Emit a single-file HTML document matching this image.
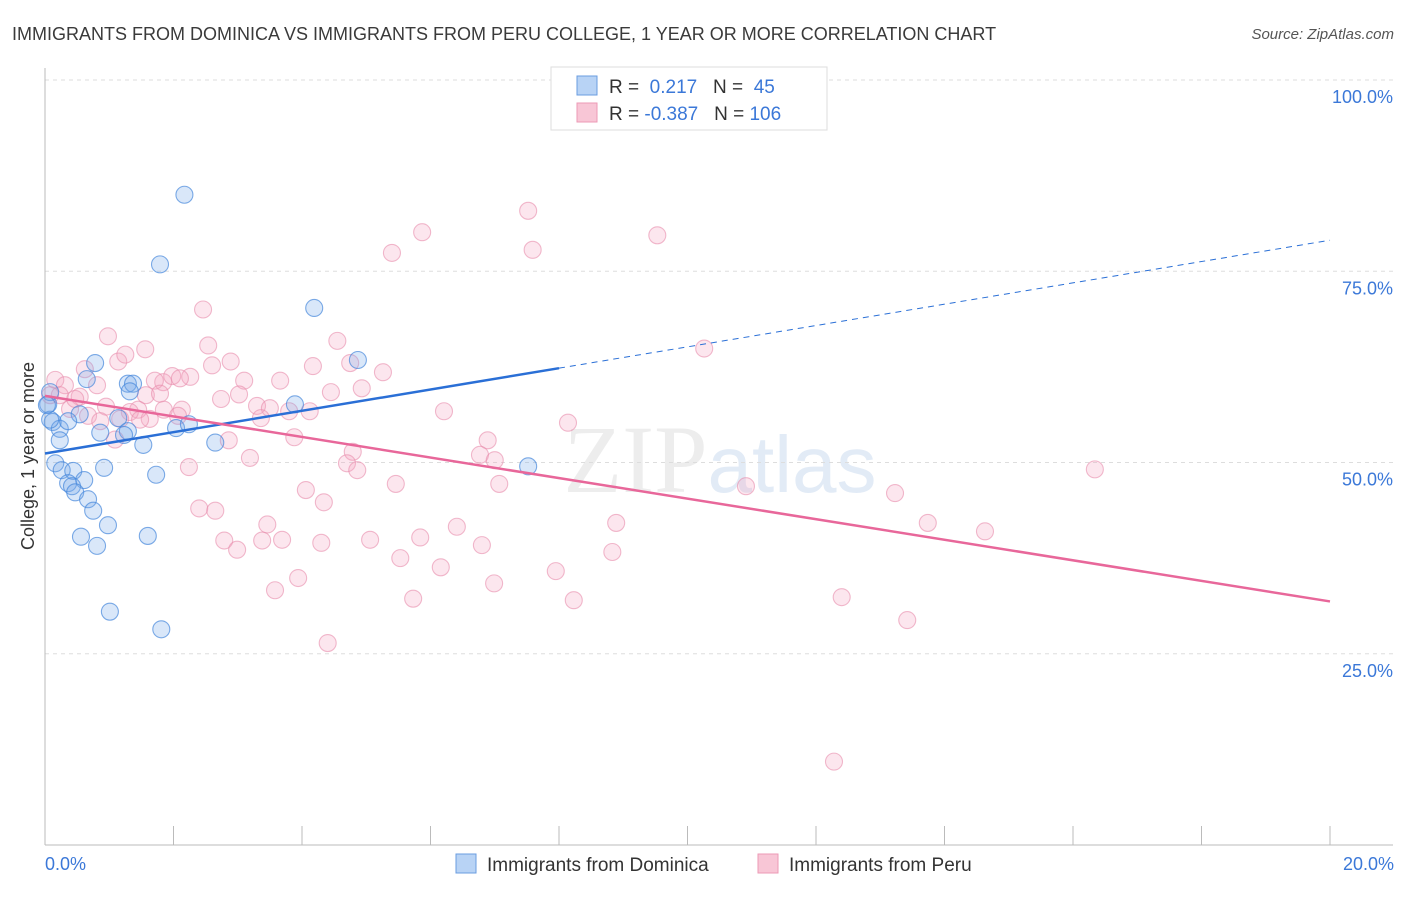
<!DOCTYPE html>
<html><head><meta charset="utf-8"><style>
body{margin:0;background:#fff;font-family:"Liberation Sans",sans-serif}
</style></head><body>
<svg width="1406" height="892" xmlns="http://www.w3.org/2000/svg" font-family="Liberation Sans, sans-serif">
<text x="12" y="40" font-size="18" fill="#3a3a3a">IMMIGRANTS FROM DOMINICA VS IMMIGRANTS FROM PERU COLLEGE, 1 YEAR OR MORE CORRELATION CHART</text>
<text x="1394" y="39" font-size="15" fill="#555" text-anchor="end" font-style="italic">Source: ZipAtlas.com</text>
<text x="720" y="492" font-size="96" fill="#e2e2e2" text-anchor="middle" font-family="Liberation Serif, serif" opacity="0.6">ZIP<tspan fill="#cfdef1" font-family="Liberation Sans, sans-serif" font-size="80">atlas</tspan></text>
<g id="grid"></g>
<g id="axes"></g>
<g id="pts"></g>
<g id="trends"></g>
<text transform="translate(34,456) rotate(-90)" font-size="18" fill="#333" text-anchor="middle">College, 1 year or more</text>
<text x="45" y="870" font-size="18" fill="#3b78d8">0.0%</text>
<text x="1394" y="870" font-size="18" fill="#3b78d8" text-anchor="end">20.0%</text>
<g>
<rect x="551" y="67" width="276" height="63" fill="#fff" stroke="#ddd"/>
<rect x="577" y="76" width="20" height="19" fill="#b8d3f5" stroke="#6a9de0"/>
<rect x="577" y="103" width="20" height="19" fill="#f8c6d6" stroke="#ec9ab6"/>
<text x="609" y="93" font-size="19" fill="#333">R = <tspan fill="#3b78d8">&#160;0.217</tspan>&#160;&#160;&#160;N = &#160;<tspan fill="#3b78d8">45</tspan></text>
<text x="609" y="120" font-size="19" fill="#333">R = <tspan fill="#3b78d8">-0.387</tspan>&#160;&#160;&#160;N = <tspan fill="#3b78d8">106</tspan></text>
</g>
<g>
<rect x="456" y="854" width="20" height="19" fill="#b8d3f5" stroke="#6a9de0"/>
<text x="487" y="871" font-size="19" fill="#333">Immigrants from Dominica</text>
<rect x="758" y="854" width="20" height="19" fill="#f8c6d6" stroke="#ec9ab6"/>
<text x="789" y="871" font-size="19" fill="#333">Immigrants from Peru</text>
</g>
</svg>
<script>
const yTicks=[25,50,75,100];
const yTickLabels=["25.0%","50.0%","75.0%","100.0%"];
const xTicks=[0,2,4,6,8,10,12,14,16,18,20];
const dominicaX=[2.17,1.79,4.19,0.78,4.87,1.29,1.37,0.65,1.32,0.08,0.05,3.89,1.14,0.54,0.12,0.23,0.36,0.86,1.29,1.23,2.04,2.24,2.65,1.53,0.16,0.26,0.44,0.92,7.52,1.73,0.36,0.61,0.42,0.47,0.67,0.75,0.98,1.60,0.56,0.81,1.01,1.81,0.08,0.03,0.23];
const dominicaY=[85.0,75.9,70.2,63.0,63.4,60.3,60.3,60.9,59.3,59.2,57.6,57.6,55.8,56.3,55.3,54.4,55.4,53.9,54.1,53.6,54.5,55.0,52.6,52.3,49.9,49.0,48.9,49.3,49.5,48.4,47.3,47.7,46.9,46.1,45.2,43.7,41.8,40.4,40.3,39.1,30.5,28.2,55.6,57.5,52.9];
const peruX=[7.52,5.87,9.53,5.40,7.59,2.46,0.98,4.55,2.54,10.26,1.56,1.14,2.89,4.75,4.17,2.60,5.26,1.84,2.26,3.10,3.66,0.16,0.31,0.81,1.71,1.98,0.23,0.54,4.45,4.93,3.02,2.74,1.57,3.30,3.50,3.80,4.12,1.85,2.13,1.45,6.21,0.95,0.67,1.32,1.63,2.07,3.36,0.39,0.86,1.17,8.14,1.09,3.88,2.86,6.89,4.79,3.19,6.77,7.00,4.70,2.24,4.86,16.34,5.46,7.07,10.91,4.06,13.23,4.34,2.40,2.65,6.41,8.89,3.46,13.74,14.63,2.79,3.38,3.69,5.06,5.84,4.30,2.99,6.80,8.83,5.53,6.16,3.94,7.95,3.58,6.99,5.73,8.23,12.40,13.42,4.40,12.28,2.10,0.62,1.25,0.08,0.47,1.48,1.79];
const peruY=[82.9,80.1,79.7,77.4,77.8,70.0,66.5,65.9,65.3,64.9,64.8,63.2,63.2,63.0,62.6,62.7,61.8,60.5,61.2,60.7,60.7,60.8,60.1,60.1,60.7,61.3,58.8,58.6,59.2,59.7,58.9,58.3,58.8,57.4,57.1,56.7,56.7,56.9,56.9,56.9,56.7,57.3,56.1,56.6,55.7,56.1,55.8,57.0,55.4,55.7,55.2,53.0,53.3,52.9,52.9,51.4,50.6,51.0,50.3,49.9,49.4,49.0,49.1,47.2,47.2,46.9,46.4,46.0,44.8,44.0,43.7,41.6,42.1,41.9,42.1,41.0,39.8,39.8,39.9,39.9,40.2,39.5,38.6,39.2,38.3,37.5,36.3,34.9,35.8,33.3,34.2,32.2,32.0,32.4,29.4,26.4,10.9,61.0,62.2,64.1,58.8,58.3,55.6,59.0];
const NS='http://www.w3.org/2000/svg';
const X0=45,X1=1330,Y0=845,YS=7.65;
function sx(v){return X0+(X1-X0)*v/20;}
function sy(v){return Y0-v*YS;}
function mk(tag,attrs,parent){const e=document.createElementNS(NS,tag);for(const k in attrs)e.setAttribute(k,attrs[k]);parent.appendChild(e);return e;}
const grid=document.getElementById('grid'),axes=document.getElementById('axes'),pts=document.getElementById('pts'),tr=document.getElementById('trends');
yTicks.forEach((t,i)=>{
 const l=mk('line',{x1:45,x2:1393,y1:sy(t),y2:sy(t),stroke:'#ddd','stroke-dasharray':'4,4'},grid);
 
 
 const tx=mk('text',{x:1393,y:sy(t)+23,'font-size':18,fill:'#3b78d8','text-anchor':'end'},grid);
 tx.textContent=yTickLabels[i];
 
 
});
const ax=mk('line',{x1:45,x2:45,y1:68,y2:845,stroke:'#bbb'},axes);


const bx=mk('line',{x1:45,x2:1393,y1:845,y2:845,stroke:'#bbb'},axes);


xTicks.forEach(t=>{
 const l=mk('line',{x1:sx(t),x2:sx(t),y1:826,y2:845,stroke:'#bbb'},axes);
 
 
});
function dots(xs,ys,fill,stroke,name){
 xs.forEach((x,i)=>{
  const c=mk('circle',{cx:sx(x),cy:sy(ys[i]),r:8.5,fill:fill,stroke:stroke,'stroke-width':1.1},pts);
  
  
 });
}
dots(peruX,peruY,'rgba(244,165,195,0.28)','rgba(232,140,172,0.6)','peru-point');
dots(dominicaX,dominicaY,'rgba(120,170,235,0.28)','rgba(70,135,220,0.7)','dominica-point');
function fit(xs,ys){const n=xs.length;let mx=0,my=0;for(let i=0;i<n;i++){mx+=xs[i];my+=ys[i];}mx/=n;my/=n;let a=0,b=0;for(let i=0;i<n;i++){a+=(xs[i]-mx)*(ys[i]-my);b+=(xs[i]-mx)**2;}const s=a/b;return[s,my-s*mx];}
const [bs,bi]=fit(dominicaX,dominicaY);
let e=mk('line',{x1:sx(0),y1:sy(bi),x2:sx(8),y2:sy(bi+bs*8),stroke:'#2a6fd6','stroke-width':2.5},tr);


e=mk('line',{x1:sx(8),y1:sy(bi+bs*8),x2:sx(20),y2:sy(bi+bs*20),stroke:'#2a6fd6','stroke-width':1,'stroke-dasharray':'6,5'},tr);


const [ps,pi]=fit(peruX,peruY);
e=mk('line',{x1:sx(0),y1:sy(pi),x2:sx(20),y2:sy(pi+ps*20),stroke:'#e8679a','stroke-width':2.5},tr);


</script>
</body></html>
